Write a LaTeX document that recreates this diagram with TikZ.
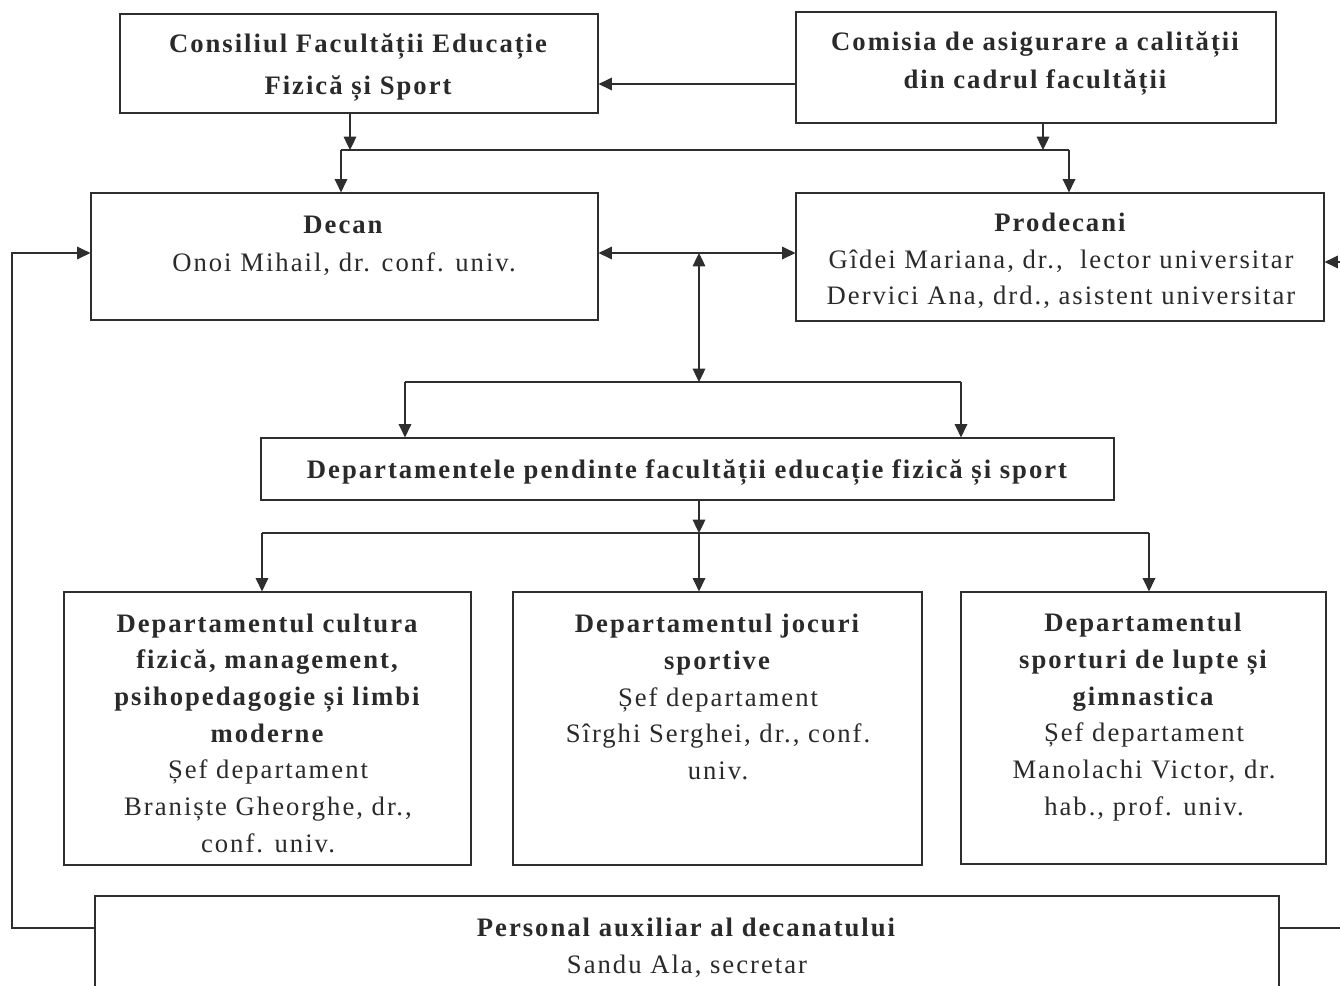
\documentclass[tikz,border=0pt]{standalone}
\usepackage{fontspec}
\setmainfont{Liberation Serif}[LetterSpace=7.5]
\usetikzlibrary{arrows.meta,fit}
\definecolor{ink}{HTML}{2E2E2E}
\definecolor{txt}{HTML}{2A2A2A}
\begin{document}
\begin{tikzpicture}[x=0.75pt,y=-0.75pt,
  box/.style={draw=ink,line width=0.9pt,inner sep=0pt},
  ln/.style={draw=ink,line width=0.9pt},
  arr/.style={ln,-{Triangle[length=10pt,width=9.5pt]}},
  darr/.style={ln,{Triangle[length=10pt,width=9.5pt]}-{Triangle[length=10pt,width=9.5pt]}},
  tb/.style={text=txt,align=center,inner sep=0pt,font=\fontsize{20}{27.5}\selectfont},
  tb31/.style={tb,font=\fontsize{20}{31.5}\selectfont},
  tb28/.style={tb,font=\fontsize{20}{28.5}\selectfont}]
\fill[white] (0,0) rectangle (1340,986);
\useasboundingbox (0,0) rectangle (1340,986);

% boxes
\node[box,fit={(120,14) (598,113)}] (cons) {};
\node[box,fit={(796,12) (1276,123)}] (com) {};
\node[box,fit={(91,193) (598,320)}] (dec) {};
\node[box,fit={(796,193) (1324,321)}] (pro) {};
\node[box,fit={(261,438) (1114,500)}] (dep) {};
\node[box,fit={(64,592) (471,865)}] (d1) {};
\node[box,fit={(513,592) (922,865)}] (d2) {};
\node[box,fit={(961,592) (1326,864)}] (d3) {};
\node[box,fit={(95,896) (1279,1010)}] (pers) {};

% texts
\node[tb31] (cons-t) at (359,68) {\textbf{Consiliul Facultății Educație}\\\textbf{Fizică și Sport}};
\node[tb28] (com-t) at (1036,64) {\textbf{Comisia de asigurare a calității}\\\textbf{din cadrul facultății}};
\node[tb28] (dec-t) at (344,246) {\textbf{Decan}\\Onoi Mihail, dr. conf. univ.};
\node[tb] (pro-t) at (1061,261) {\textbf{Prodecani}\\Gîdei Mariana, dr., \ lector universitar\\Dervici Ana, drd., asistent universitar};
\node[tb] (dep-t) at (688,473) {\textbf{Departamentele pendinte facultății educație fizică și sport}};
\node[tb] (d1-t) at (268,733) {\textbf{Departamentul cultura}\\\textbf{fizică, management,}\\\textbf{psihopedagogie și limbi}\\\textbf{moderne}\\Șef departament\\Braniște Gheorghe, dr.,\\conf. univ.};
\node[tb] (d2-t) at (718,697) {\textbf{Departamentul jocuri}\\\textbf{sportive}\\Șef departament\\Sîrghi Serghei, dr., conf.\\univ.};
\node[tb] (d3-t) at (1144,717) {\textbf{Departamentul}\\\textbf{sporturi de lupte și}\\\textbf{gimnastica}\\Șef departament\\Manolachi Victor, dr.\\hab., prof. univ.};
\node[tb] (pers-t) at (687,948) {\textbf{Personal auxiliar al decanatului}\\Sandu Ala, secretar};

% top connectors
\coordinate (c84) at (796,84);
\draw[arr] (c84) -- (c84 -| cons.east);
\coordinate (t1) at (341,150);
\coordinate (t2) at (1069,150);
\coordinate (x350) at (350,150);
\coordinate (x1043) at (1043,150);
\draw[arr] (cons.south -| x350) -- (x350);
\draw[arr] (com.south -| x1043) -- (x1043);
\draw[ln] (t1) -- (t2);
\draw[arr] (t1) -- (t1 |- dec.north);
\draw[arr] (t2) -- (t2 |- pro.north);

% middle
\coordinate (m) at (699,253);
\draw[darr] (m -| dec.east) -- (m -| pro.west);
\coordinate (m2) at (699,382);
\draw[darr] (m) -- (m2);
\coordinate (l1) at (405,382);
\coordinate (r1) at (961,382);
\draw[ln] (l1) -- (r1);
\draw[arr] (l1) -- (l1 |- dep.north);
\draw[arr] (r1) -- (r1 |- dep.north);

% lower
\coordinate (b) at (699,533);
\draw[arr] (dep.south -| b) -- (b);
\coordinate (bl) at (262,533);
\coordinate (br) at (1149,533);
\draw[ln] (bl) -- (br);
\draw[arr] (bl) -- (bl |- d1.north);
\draw[arr] (b) -- (b |- d2.north);
\draw[arr] (br) -- (br |- d3.north);

% side loops
\coordinate (pl) at (95,928);
\coordinate (lx) at (12,928);
\coordinate (ly) at (12,253);
\draw[arr] (pl) -- (lx) -- (ly) -- (ly -| dec.west);
\coordinate (pr) at (1279,928);
\coordinate (rx) at (1345,928);
\draw[ln] (pr) -- (rx);
\coordinate (ry) at (1345,262);
\draw[arr] (ry) -- (ry -| pro.east);
\end{tikzpicture}
\end{document}
